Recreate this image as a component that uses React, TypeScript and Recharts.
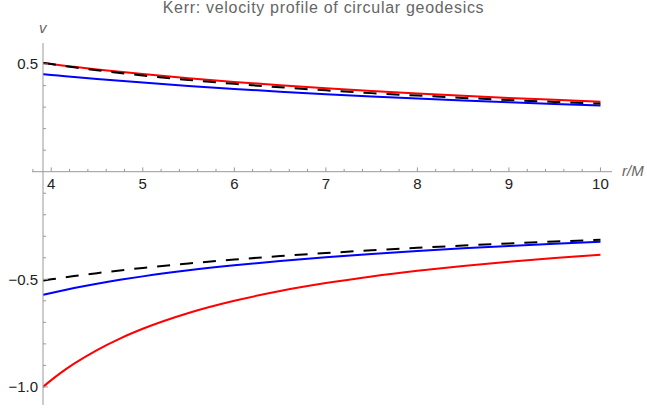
import {
  LineChart, Line, XAxis, YAxis, ReferenceLine, ReferenceDot
} from 'recharts';

// radius r/M
const radii = [3.91, 4, 4.1, 4.25, 4.5, 4.75, 5, 5.5, 6, 6.5, 7, 7.5, 8, 8.5, 9, 9.5, 10];

// red: prograde / retrograde
const redPro = [0.5049, 0.5001, 0.4948, 0.4873, 0.4753, 0.4641, 0.4535, 0.4343, 0.4171, 0.4016, 0.3876, 0.3749, 0.3633, 0.3527, 0.3428, 0.3338, 0.3253];
const redRetro = [-1.0, -0.9685, -0.936, -0.892, -0.8286, -0.7753, -0.7299, -0.6565, -0.5998, -0.5545, -0.5176, -0.4867, -0.4605, -0.4379, -0.4183, -0.401, -0.3856];

// blue: prograde / retrograde
const bluePro = [0.453, 0.4494, 0.4456, 0.4399, 0.4308, 0.4221, 0.4139, 0.3986, 0.3847, 0.372, 0.3604, 0.3498, 0.34, 0.331, 0.3226, 0.3148, 0.3075];
const blueRetro = [-0.5723, -0.5634, -0.5539, -0.5406, -0.5205, -0.5025, -0.4864, -0.4584, -0.4349, -0.4148, -0.3973, -0.3819, -0.3682, -0.3559, -0.3448, -0.3347, -0.3255];

// black dashed: upper / lower
const dashUp = [0.5057, 0.5, 0.4939, 0.4851, 0.4714, 0.4588, 0.4472, 0.4264, 0.4082, 0.3922, 0.378, 0.3651, 0.3536, 0.343, 0.3333, 0.3244, 0.3162];
const dashDown = [-0.5057, -0.5, -0.4939, -0.4851, -0.4714, -0.4588, -0.4472, -0.4264, -0.4082, -0.3922, -0.378, -0.3651, -0.3536, -0.343, -0.3333, -0.3244, -0.3162];

const xMajor = [4, 5, 6, 7, 8, 9, 10];
const xMinor = [3.8, 4.2, 4.4, 4.6, 4.8, 5.2, 5.4, 5.6, 5.8, 6.2, 6.4, 6.6, 6.8, 7.2, 7.4, 7.6, 7.8, 8.2, 8.4, 8.6, 8.8, 9.2, 9.4, 9.6, 9.8];
const yTicks = [-1.0, -0.9, -0.8, -0.7, -0.6, -0.5, -0.4, -0.3, -0.2, -0.1, 0.1, 0.2, 0.3, 0.4, 0.5];
const yLabeled = [-1.0, -0.5, 0.5];

const data = radii.map((r, i) => ({
  r,
  redPro: redPro[i],
  redRetro: redRetro[i],
  bluePro: bluePro[i],
  blueRetro: blueRetro[i],
  dashUp: dashUp[i],
  dashDown: dashDown[i],
}));

const FONT = '"Liberation Sans", Arial, sans-serif';
const AXIS = '#999';
const GRAY = '#666';

const YTick = (props: any) => {
  const { x, y, payload } = props;
  const v = payload.value;
  const major = yLabeled.some((m) => Math.abs(m - v) < 1e-6);
  const label = v.toFixed(1).replace('-', '\u2212');
  return (
    <g>
      <line x1={x} x2={x + (major ? 5 : 3)} y1={y} y2={y} stroke={AXIS} />
      {major && (
        <text x={x - 5} y={y} dy="0.35em" textAnchor="end" fontSize={15} fontFamily={FONT} fill="#222">
          {label}
        </text>
      )}
    </g>
  );
};

export default function App() {
  return (
    <div style={{ position: 'absolute', left: 0, top: 0, width: 647, height: 411, background: '#fff' }}>
      <div style={{ position: 'absolute', left: 0, top: -1, width: 647, textAlign: 'center', fontFamily: FONT, fontSize: 16, letterSpacing: 0.7, color: GRAY, lineHeight: '18px' }}>
        Kerr: velocity profile of circular geodesics
      </div>
      <div style={{ position: 'absolute', left: 39, top: 19, fontFamily: FONT, fontSize: 15, fontStyle: 'italic', color: GRAY }}>v</div>
      <div style={{ position: 'absolute', left: 622, top: 162, fontFamily: FONT, fontSize: 15, fontStyle: 'italic', color: GRAY }}>r/M</div>
      <LineChart width={647} height={411} data={data} margin={{ top: 43, right: 35, bottom: 6, left: 0 }}>
        <XAxis dataKey="r" type="number" domain={[3.91, 10.126]} allowDataOverflow hide />
        <YAxis
          type="number"
          domain={[-1.084, 0.598]}
          allowDataOverflow
          width={43}
          ticks={yTicks}
          interval={0}
          tickSize={0}
          tickMargin={0}
          tickLine={false}
          axisLine={{ stroke: AXIS }}
          tick={<YTick />}
        />
        <ReferenceLine segment={[{ x: 3.79, y: 0 }, { x: 10.126, y: 0 }]} stroke={AXIS} ifOverflow="visible" />
        {xMinor.map((t) => (
          <ReferenceLine key={'mn' + t} segment={[{ x: t, y: 0 }, { x: t, y: 0.013 }]} stroke={AXIS} ifOverflow="visible" />
        ))}
        {xMajor.map((t) => (
          <ReferenceLine key={'mj' + t} segment={[{ x: t, y: 0 }, { x: t, y: 0.02 }]} stroke={AXIS} ifOverflow="visible" />
        ))}
        {xMajor.map((t) => (
          <ReferenceDot
            key={'lb' + t}
            x={t}
            y={0}
            r={0}
            fill="none"
            stroke="none"
            label={{ value: String(t), position: 'bottom', offset: 7, fill: '#222', fontSize: 15, fontFamily: FONT }}
          />
        ))}
        <Line dataKey="redPro" type="monotone" stroke="#ff0000" strokeWidth={2} dot={false} isAnimationActive={false} />
        <Line dataKey="redRetro" type="monotone" stroke="#ff0000" strokeWidth={2} dot={false} isAnimationActive={false} />
        <Line dataKey="bluePro" type="monotone" stroke="#0000ff" strokeWidth={2} dot={false} isAnimationActive={false} />
        <Line dataKey="blueRetro" type="monotone" stroke="#0000ff" strokeWidth={2} dot={false} isAnimationActive={false} />
        <Line dataKey="dashUp" type="monotone" stroke="#000" strokeWidth={2} strokeDasharray="13 10" dot={false} isAnimationActive={false} />
        <Line dataKey="dashDown" type="monotone" stroke="#000" strokeWidth={2} strokeDasharray="13 10" dot={false} isAnimationActive={false} />
      </LineChart>
    </div>
  );
}
